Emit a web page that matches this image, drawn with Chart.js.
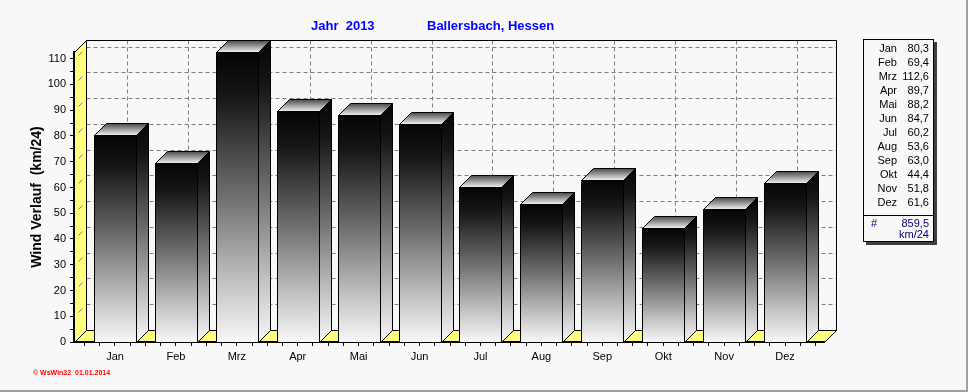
<!DOCTYPE html>
<html>
<head>
<meta charset="utf-8">
<script src="https://cdn.jsdelivr.net/npm/chart.js@4.4.1/dist/chart.umd.min.js"></script>
<style>
  body { margin: 0; background: #f8f8f8; }
  #wrap { position: relative; width: 968px; height: 392px; }
  #legend {
    position: absolute; left: 863px; top: 39px; width: 69px; height: 201px;
    border: 1px solid #000; background: #f8f8f8; box-shadow: 3px 3px 0 #404040;
    font: 11px Arial, "Liberation Sans", sans-serif; color: #000;
  }
  .row { position: absolute; left: 0; width: 69px; height: 14px; line-height: 14px; }
  .row .m { position: absolute; right: 36px; }
  .row .v { position: absolute; right: 4px; }
  .sum { color: #000080; line-height: 12px; height: 12px; }
  .sum .hash { position: absolute; left: 7px; }
  .sep { position: absolute; left: 0; width: 69px; top: 175px; height: 1px; background: #000; }
</style>
</head>
<body>
<div id="wrap">
  <canvas id="chart" width="968" height="392"></canvas>
  <div id="legend"></div>
</div>
<script>
const months = ['Jan', 'Feb', 'Mrz', 'Apr', 'Mai', 'Jun', 'Jul', 'Aug', 'Sep', 'Okt', 'Nov', 'Dez'];
const windValues = [80.3, 69.4, 112.6, 89.7, 88.2, 84.7, 60.2, 53.6, 63.0, 44.4, 51.8, 61.6];
const yLabelStep = 10;   // labelled ticks
const yMinorStep = 5;    // small tick marks
const titleYear = 'Jahr  2013';
const titleStation = 'Ballersbach, Hessen';
const yTitle = 'Wind Verlauf  (km/24)';
const unitText = 'km/24';
const footerText = '\u00a9 WsWin32  01.01.2014';

const DEPTH = 12;
const fmt = v => v.toFixed(1).replace('.', ',');

// legend box on the right
const legend = document.getElementById('legend');
months.forEach((m, i) => {
  const row = document.createElement('div');
  row.className = 'row';
  row.style.top = (1 + i * 14) + 'px';
  row.innerHTML = `<span class="m">${m}</span><span class="v">${fmt(windValues[i])}</span>`;
  legend.appendChild(row);
});
const sep = document.createElement('div');
sep.className = 'sep';
legend.appendChild(sep);
const total = windValues.reduce((a, b) => a + b, 0);
const sumRow = document.createElement('div');
sumRow.className = 'row sum';
sumRow.style.top = '177px';
sumRow.innerHTML = `<span class="hash">#</span><span class="v">${fmt(total)}</span>`;
legend.appendChild(sumRow);
const unitRow = document.createElement('div');
unitRow.className = 'row sum';
unitRow.style.top = '188px';
unitRow.innerHTML = `<span class="v">${unitText}</span>`;
legend.appendChild(unitRow);

function poly(ctx, pts) {
  ctx.beginPath();
  ctx.moveTo(pts[0][0], pts[0][1]);
  for (let i = 1; i < pts.length; i++) ctx.lineTo(pts[i][0], pts[i][1]);
  ctx.closePath();
}
function line(ctx, x1, y1, x2, y2) {
  ctx.beginPath();
  ctx.moveTo(x1, y1);
  ctx.lineTo(x2, y2);
  ctx.stroke();
}

// back wall, yellow side wall and floor
const backdrop = {
  id: 'backdrop',
  beforeDraw(chart) {
    const { ctx, chartArea: a, scales: { x, y } } = chart;
    const d = DEPTH;
    const L = a.left + 0.5, R = Math.round(a.right) + 0.5, T = Math.round(a.top) + 0.5, B = Math.round(a.bottom) + 0.5;
    ctx.save();
    ctx.fillStyle = '#f8f8f8';
    ctx.fillRect(0, 0, chart.width, chart.height);

    ctx.fillStyle = '#ffff80';
    poly(ctx, [[L, B], [L, T], [L + d, T - d], [L + d, B - d]]);
    ctx.fill();
    poly(ctx, [[L, B], [R, B], [R + d, B - d], [L + d, B - d]]);
    ctx.fill();

    ctx.strokeStyle = '#808080';
    ctx.lineWidth = 1;
    y.ticks.forEach(t => {
      if (t.value > 0 && t.value % yLabelStep === 0) {
        const py = Math.round(y.getPixelForValue(t.value)) + 0.5;
        ctx.setLineDash([4, 3]);
        line(ctx, L + d, py - d, R + d, py - d);
        ctx.setLineDash([]);
        line(ctx, L + 4, py - 4, L + 8, py - 8);
      }
    });
    ctx.setLineDash([4, 3]);
    months.forEach((m, i) => {
      const px = Math.round(x.getPixelForValue(i)) + d + 0.5;
      line(ctx, px, T - d, px, B - d);
    });
    ctx.setLineDash([]);

    ctx.strokeStyle = '#000';
    ctx.beginPath();
    ctx.moveTo(L, T);
    ctx.lineTo(L + d, T - d);
    ctx.lineTo(R + d, T - d);
    ctx.lineTo(R + d, B - d);
    ctx.lineTo(R, B);
    ctx.stroke();
    ctx.beginPath();
    ctx.moveTo(L + d, T - d);
    ctx.lineTo(L + d, B - d);
    ctx.lineTo(R + d, B - d);
    ctx.stroke();
    line(ctx, L, B, L + d, B - d);
    ctx.restore();
  }
};

function shade(ctx, y0, y1) {
  const g = ctx.createLinearGradient(0, y0, 0, y1);
  g.addColorStop(0, '#050505');
  g.addColorStop(0.15, '#161616');
  g.addColorStop(0.5, '#707070');
  g.addColorStop(0.8, '#c4c4c4');
  g.addColorStop(1, '#f8f8f8');
  return g;
}

// 3d bars drawn over the (transparent) Chart.js bars
const bars3d = {
  id: 'bars3d',
  afterDatasetsDraw(chart) {
    const { ctx } = chart;
    const d = DEPTH;
    ctx.save();
    ctx.strokeStyle = '#000';
    ctx.lineWidth = 1;
    chart.getDatasetMeta(0).data.forEach(bar => {
      const { x, y, base, width } = bar.getProps(['x', 'y', 'base', 'width'], true);
      const xl = Math.round(x - width / 2) + 0.5, xr = Math.round(x + width / 2) + 0.5;
      const yt = Math.round(y) + 0.5, yb = Math.round(base) + 0.5;

      // side
      ctx.fillStyle = shade(ctx, yt - d, yb);
      poly(ctx, [[xr, yt], [xr + d, yt - d], [xr + d, yb - d], [xr, yb]]);
      ctx.fill();
      ctx.stroke();

      // top
      const gt = ctx.createLinearGradient(0, yt - d, 0, yt);
      gt.addColorStop(0, '#4a4a4a');
      gt.addColorStop(0.6, '#b0b0b0');
      gt.addColorStop(1, '#f4f4f4');
      ctx.fillStyle = gt;
      poly(ctx, [[xl, yt], [xr, yt], [xr + d, yt - d], [xl + d, yt - d]]);
      ctx.fill();
      ctx.stroke();

      // front
      ctx.fillStyle = shade(ctx, yt, yb);
      ctx.fillRect(xl, yt, xr - xl, yb - yt);
      ctx.strokeRect(xl, yt, xr - xl, yb - yt);
    });
    ctx.restore();
  }
};

// titles, footer and outer frame
const texts = {
  id: 'texts',
  afterDraw(chart) {
    const { ctx } = chart;
    ctx.save();
    ctx.fillStyle = '#0000ff';
    ctx.font = 'bold 13px Arial, "Liberation Sans", sans-serif';
    ctx.textBaseline = 'alphabetic';
    ctx.fillText(titleYear, 311, 30);
    ctx.fillText(titleStation, 427, 30);

    ctx.fillStyle = '#ff0000';
    ctx.font = 'bold 7px Arial, "Liberation Sans", sans-serif';
    ctx.fillText(footerText, 33, 375);

    ctx.fillStyle = '#a0a0a0';
    ctx.fillRect(966, 0, 2, 392);
    ctx.fillRect(0, 390, 968, 2);
    ctx.restore();
  }
};

new Chart(document.getElementById('chart'), {
  type: 'bar',
  data: {
    datasets: [{
      data: windValues.map((v, i) => ({ x: i, y: v })),
      backgroundColor: 'rgba(0,0,0,0)',
      borderWidth: 0,
      barThickness: 42
    }]
  },
  options: {
    responsive: false,
    animation: false,
    devicePixelRatio: 1,
    layout: { padding: { left: 0, top: 52, right: 144, bottom: 0 } },
    plugins: {
      legend: { display: false },
      tooltip: { enabled: false }
    },
    scales: {
      x: {
        type: 'linear',
        min: -0.673,
        max: 11.64,
        offset: false,
        z: 1,
        afterFit: s => { s.height = 50; },
        afterBuildTicks: s => {
          s.ticks = [];
          for (let k = 0; k <= months.length * 4; k++) s.ticks.push({ value: -0.5 + k * 0.25 });
        },
        grid: { offset: false, drawOnChartArea: false, drawTicks: true, tickLength: 4, color: '#000' },
        border: { display: true, color: '#000', width: 2 },
        ticks: {
          autoSkip: false,
          maxRotation: 0,
          minRotation: 0,
          padding: 4,
          color: '#000',
          font: { family: 'Arial, "Liberation Sans", sans-serif', size: 11 },
          callback: v => Number.isInteger(v) ? months[v] : ''
        }
      },
      y: {
        min: 0,
        max: Math.max(...windValues),
        z: 1,
        afterFit: s => { s.width = 74; },
        afterBuildTicks: s => {
          s.ticks = [];
          for (let v = 0; v <= s.max; v += yMinorStep) s.ticks.push({ value: v });
        },
        grid: { drawOnChartArea: false, drawTicks: true, tickLength: 4, color: '#000' },
        border: { display: true, color: '#000', width: 2 },
        ticks: {
          autoSkip: false,
          padding: 4,
          color: '#000',
          font: { family: 'Arial, "Liberation Sans", sans-serif', size: 11 },
          callback: v => v % yLabelStep === 0 ? v : ''
        },
        title: {
          display: true,
          text: yTitle,
          color: '#000',
          font: { family: 'Arial, "Liberation Sans", sans-serif', size: 14, weight: 'bold' },
          padding: { top: 29, bottom: 0 }
        }
      }
    }
  },
  plugins: [backdrop, bars3d, texts]
});
</script>
</body>
</html>
